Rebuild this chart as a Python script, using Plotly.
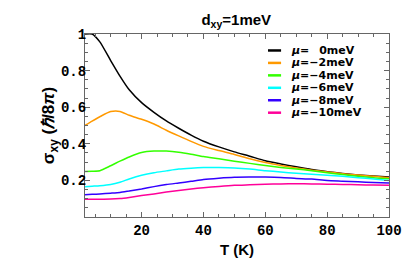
import plotly.graph_objects as go

T = [1.7, 4, 6.5, 10, 13, 16, 20, 24, 28, 32, 36, 40, 45, 50, 55, 60, 65, 70, 75, 80, 85, 90, 95, 100]

mu0 = [1.0, 1.0, 0.957, 0.855, 0.77, 0.695, 0.625, 0.572, 0.525, 0.485, 0.447, 0.414, 0.383, 0.356, 0.332, 0.307, 0.29, 0.274, 0.259, 0.248, 0.238, 0.23, 0.224, 0.218]
mu2 = [0.5, 0.524, 0.548, 0.576, 0.577, 0.556, 0.534, 0.508, 0.474, 0.443, 0.413, 0.386, 0.363, 0.342, 0.318, 0.298, 0.282, 0.268, 0.256, 0.246, 0.237, 0.229, 0.222, 0.215]
mu4 = [0.248, 0.25, 0.253, 0.28, 0.305, 0.328, 0.352, 0.36, 0.36, 0.354, 0.343, 0.33, 0.318, 0.305, 0.293, 0.281, 0.271, 0.262, 0.253, 0.242, 0.232, 0.223, 0.215, 0.209]
mu6 = [0.165, 0.168, 0.171, 0.178, 0.19, 0.208, 0.228, 0.242, 0.252, 0.262, 0.267, 0.27, 0.27, 0.268, 0.262, 0.253, 0.246, 0.239, 0.234, 0.228, 0.222, 0.215, 0.208, 0.2]
mu8 = [0.122, 0.124, 0.126, 0.13, 0.134, 0.142, 0.153, 0.166, 0.177, 0.186, 0.195, 0.205, 0.212, 0.217, 0.218, 0.218, 0.216, 0.211, 0.207, 0.2, 0.196, 0.192, 0.189, 0.186]
mu10 = [0.097, 0.097, 0.097, 0.098, 0.101, 0.107, 0.117, 0.126, 0.136, 0.145, 0.153, 0.16, 0.167, 0.173, 0.176, 0.179, 0.181, 0.182, 0.181, 0.179, 0.178, 0.176, 0.175, 0.173]

series = [mu0, mu2, mu4, mu6, mu8, mu10]
names = ["<i>μ</i>=\u00a0\u00a0\u20090meV", "<i>μ</i>=\u22122meV", "<i>μ</i>=\u22124meV",
         "<i>μ</i>=\u22126meV", "<i>μ</i>=\u22128meV", "<i>μ</i>=\u221210meV"]
colors = ["#000000", "#FF9900", "#33FF00", "#00FFFF", "#3300FF", "#FF0099"]

ytickvals = [0.2, 0.4, 0.6, 0.8, 1.0]
yticktext = ["0.2", "0.4", "0.6", "0.8", "1"]
xtickvals = [20, 40, 60, 80, 100]

fig = go.Figure()
for ys, nm, c in zip(series, names, colors):
    fig.add_trace(go.Scatter(x=T, y=ys, mode="lines", name=nm,
                             line=dict(color=c, width=1.5, shape="spline", smoothing=0.6),
                             showlegend=False))

# legend drawn manually (compact rows)
leg_y = [0.91, 0.842, 0.774, 0.706, 0.638, 0.570]
shapes = []
annots = []
for yy, nm, c in zip(leg_y, names, colors):
    shapes.append(dict(type="line", xref="paper", yref="paper", x0=0.602, x1=0.645,
                       y0=yy, y1=yy, line=dict(color=c, width=2.5)))
    annots.append(dict(xref="paper", yref="paper", x=0.672, y=yy, text="<b>" + nm + "</b>",
                       showarrow=False, xanchor="left", yanchor="middle",
                       font=dict(family="DejaVu Sans", size=11, color="black")))

axis_common = dict(showline=True, linecolor="#666666", linewidth=1, mirror="ticks",
                   ticks="inside", ticklen=5, tickcolor="#666666", showgrid=False, zeroline=False,
                   tickfont=dict(family="Liberation Mono", size=14, color="black", weight="bold"))

fig.update_layout(
    width=415, height=259,
    margin=dict(l=77, r=34, t=26, b=45),
    plot_bgcolor="white", paper_bgcolor="white",
    title=dict(text="<b>d<sub>xy</sub>=1meV</b>", x=0.55, xanchor="center", y=0.955, yanchor="middle",
               yref="container", font=dict(family="Liberation Sans", size=15, color="black")),
    xaxis=dict(range=[1.7, 100], tickvals=xtickvals,
               minor=dict(dtick=5, tick0=0, ticks="inside", ticklen=3, tickcolor="#666666"),
               title=dict(text="<b>T (K)</b>", standoff=6,
                          font=dict(family="Liberation Sans", size=15, color="black")),
               **axis_common),
    yaxis=dict(range=[0, 1], tickvals=ytickvals, ticktext=yticktext, ticklabelstandoff=-5,
               minor=dict(dtick=0.05, tick0=0, ticks="inside", ticklen=3, tickcolor="#666666"),
               title=dict(text="<b>σ<sub>xy</sub> (<i>ℏ</i>/8<i>π</i>)</b>", standoff=0,
                          font=dict(family="Liberation Sans", size=17, color="black")),
               **axis_common),
    shapes=shapes, annotations=annots,
)

fig.write_html("out.html")
